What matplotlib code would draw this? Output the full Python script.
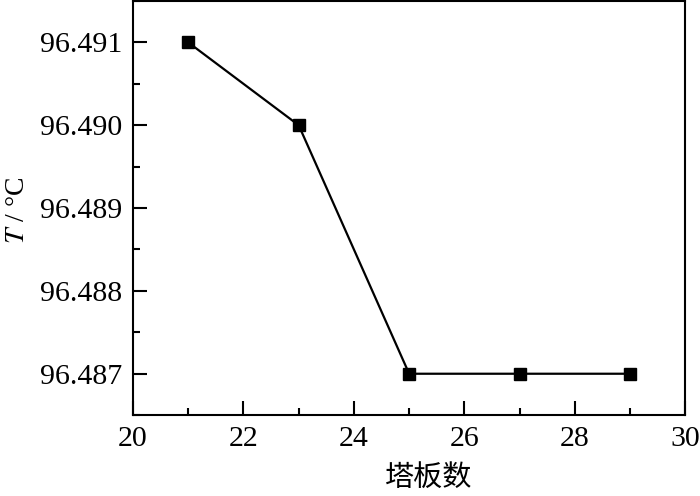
import matplotlib
matplotlib.use("Agg")
import matplotlib.pyplot as plt
from matplotlib.ticker import MultipleLocator, FormatStrFormatter

# data
trays = [21, 23, 25, 27, 29]
temps = [96.491, 96.490, 96.487, 96.487, 96.487]

plt.rcParams['font.family'] = ['Liberation Serif', 'Noto Sans CJK SC']
plt.rcParams['mathtext.fontset'] = 'stix'

fig = plt.figure(figsize=(7, 4.96), dpi=100)
ax = fig.add_axes([0.19, 0.163, 0.789, 0.835])

ax.plot(trays, temps, color='black', lw=1.6, marker='s', ms=8,
        markerfacecolor='black', markeredgecolor='black')

ax.set_xlim(20, 30)
ax.set_ylim(96.4865, 96.4915)
ax.xaxis.set_major_locator(MultipleLocator(2))
ax.xaxis.set_minor_locator(MultipleLocator(1))
ax.yaxis.set_major_locator(MultipleLocator(0.001))
ax.yaxis.set_minor_locator(MultipleLocator(0.0005))
ax.yaxis.set_major_formatter(FormatStrFormatter('%.3f'))

ax.tick_params(which='both', direction='in', top=False, right=False,
               width=1.5, labelsize=21.5)
ax.tick_params(which='major', length=10, pad=8)
ax.tick_params(which='minor', length=5)
for sp in ax.spines.values():
    sp.set_linewidth(1.5)

ax.set_xlabel('塔板数', family=['Noto Sans CJK SC'], fontsize=21)
ax.xaxis.set_label_coords(0.535, -0.115)
ax.set_ylabel(r'$T$ / °C', fontsize=20)
ax.yaxis.set_label_coords(-0.187, 0.493)

fig.savefig('out.png', dpi=100)
